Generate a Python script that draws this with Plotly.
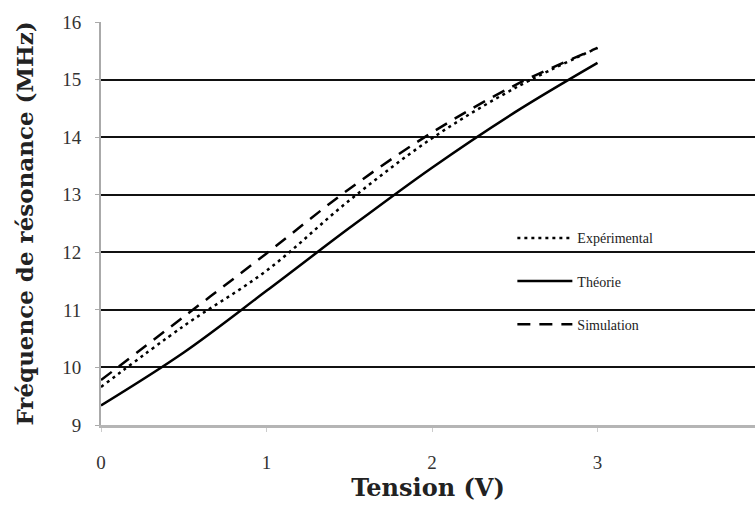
import plotly.graph_objects as go

tension = [0, 0.5, 1.0, 1.5, 2.0, 2.5, 3.0]
experimental = [9.66, 10.72, 11.68, 12.9, 13.98, 14.85, 15.55]
theorie = [9.34, 10.26, 11.33, 12.42, 13.47, 14.43, 15.29]
simulation = [9.78, 10.88, 11.98, 13.1, 14.08, 14.9, 15.55]

x_ticks = [0, 1, 2, 3, 4]
y_ticks = [9, 10, 11, 12, 13, 14, 15, 16]

serif = "Liberation Serif, Times New Roman, serif"
title_font = "DejaVu Serif, serif"

fig = go.Figure()
fig.add_trace(go.Scatter(x=tension, y=experimental, mode="lines", name="Expérimental",
                         legendgroup="a", line=dict(color="black", width=2.5, dash="3px,4px", shape="spline")))
fig.add_trace(go.Scatter(x=tension, y=theorie, mode="lines", name="Théorie",
                         legendgroup="b", line=dict(color="black", width=2.5, shape="spline")))
fig.add_trace(go.Scatter(x=tension, y=simulation, mode="lines", name="Simulation",
                         legendgroup="c", line=dict(color="black", width=2.5, dash="13px,9px", shape="spline")))

plot_left, plot_right = 101, 755
px_per_unit = 165.5
x_max = (plot_right - plot_left) / px_per_unit

fig.update_layout(
    width=755, height=511,
    margin=dict(l=101, r=0, t=22, b=86),
    paper_bgcolor="white", plot_bgcolor="white",
    font=dict(family=serif, color="#222"),
    showlegend=True,
    legend=dict(x=0.629, y=0.503, xanchor="left", yanchor="top",
                bgcolor="rgba(0,0,0,0)", tracegroupgap=22, itemwidth=55,
                font=dict(family=serif, size=14, color="#222"),
                traceorder="grouped"),
    xaxis=dict(range=[0, x_max], tickvals=x_ticks[:-1], showgrid=False, zeroline=False,
               showline=True, linecolor="#b5b5b5", linewidth=3,
               ticks="outside", ticklen=4, tickcolor="#cccccc",
               ticklabelstandoff=14,
               tickfont=dict(family=serif, size=19, color="#333"),
               title=dict(text="<b>Tension (V)</b>", font=dict(family=title_font, size=24, color="#222"),
                          standoff=8)),
    yaxis=dict(range=[9, 16], tickvals=y_ticks, showgrid=True, gridcolor="#111", gridwidth=2,
               zeroline=False, showline=True, linecolor="#aaaaaa", linewidth=2,
               ticks="outside", ticklen=4, tickcolor="#aaaaaa",
               ticklabelstandoff=10,
               tickfont=dict(family=serif, size=19, color="#333"),
               title=dict(text="<b>Fréquence de résonance (MHz)</b>",
                          font=dict(family=title_font, size=23, color="#222"), standoff=22)),
)

fig.add_annotation(x=x_ticks[-1], y=0, xref="x", yref="paper", yanchor="top", yshift=-26,
                   text=str(x_ticks[-1]), showarrow=False,
                   font=dict(family=serif, size=19, color="#333"))

fig.write_html("out.html")
